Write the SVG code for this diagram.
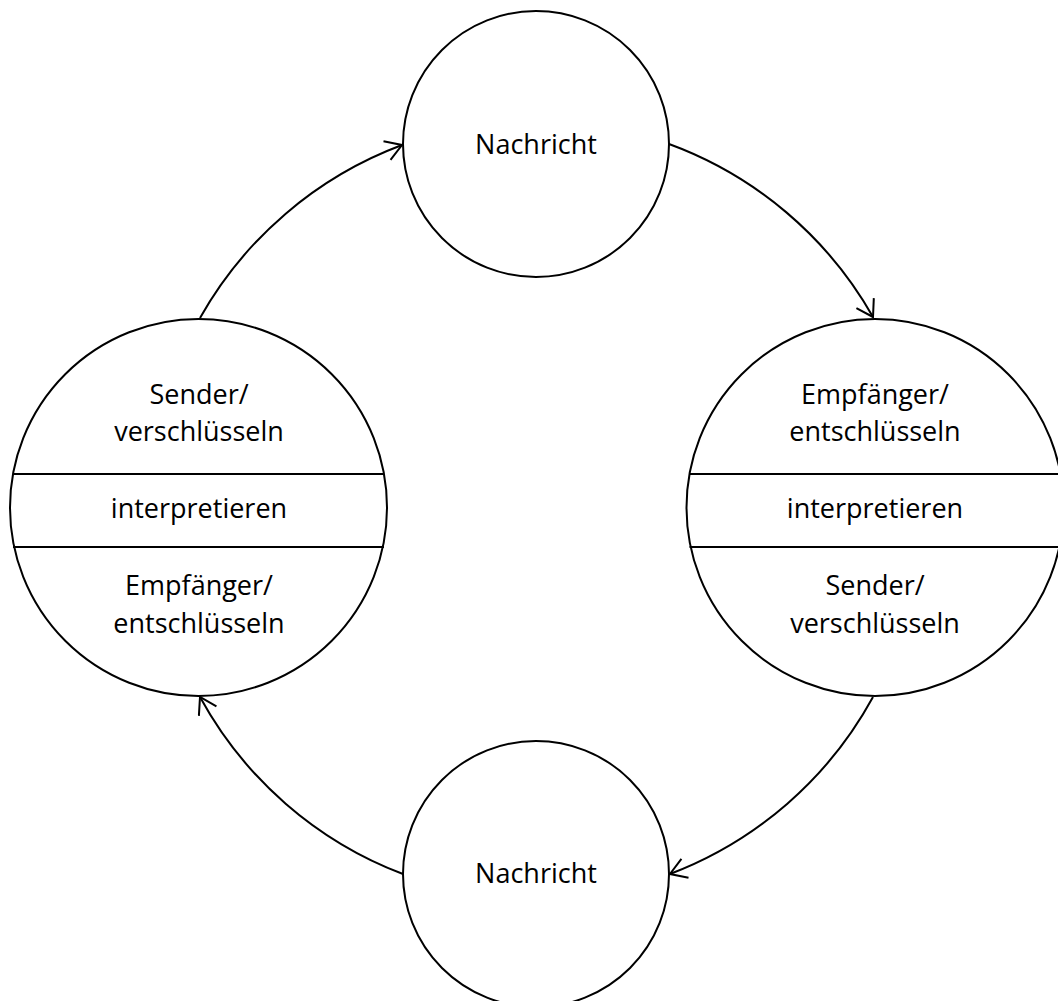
<svg xmlns="http://www.w3.org/2000/svg" width="1058" height="1001" viewBox="0 0 1058 1001">
<style>
.node{fill:#fff;stroke:#000;stroke-width:2}
.div{stroke:#000;stroke-width:2}
.lbl{font-family:"Open Sans","Noto Sans",sans-serif;font-size:27px;fill:#000;text-anchor:middle}
.edge{fill:none;stroke:#000;stroke-width:2}
</style>
<defs>
<marker id="arr" markerUnits="userSpaceOnUse" markerWidth="20" markerHeight="22" viewBox="-1 -1 19 22" refX="16" refY="10" orient="auto">
<path d="M0,0 L16,10 L0,20" fill="none" stroke="#000" stroke-width="2"/>
</marker>
</defs>
<rect width="1058" height="1001" fill="#fff"/>
<g id="connectors">
<path class="edge" d="M200,318 A388,388 0 0 1 402,145" marker-end="url(#arr)"/>
<path class="edge" d="M669,144 A388,388 0 0 1 873,317" marker-end="url(#arr)"/>
<path class="edge" d="M873,697 A388,388 0 0 1 670,874" marker-end="url(#arr)"/>
<path class="edge" d="M403,874 A388,388 0 0 1 200,697" marker-end="url(#arr)"/>
</g>
<g id="node-top">
<circle class="node" cx="536" cy="144" r="133"/>
<text class="lbl" x="536" y="154">Nachricht</text>
</g>
<g id="node-bottom">
<circle class="node" cx="536" cy="874" r="133"/>
<text class="lbl" x="536" y="883">Nachricht</text>
</g>
<g id="node-left">
<circle class="node" cx="198.5" cy="507.5" r="188.5"/>
<line class="div" x1="13" y1="474" x2="384" y2="474"/>
<line class="div" x1="13" y1="547" x2="384" y2="547"/>
<text class="lbl" x="199" y="404">Sender/</text>
<text class="lbl" x="199" y="441">verschlüsseln</text>
<text class="lbl" x="199" y="518">interpretieren</text>
<text class="lbl" x="199" y="595">Empfänger/</text>
<text class="lbl" x="199" y="633">entschlüsseln</text>
</g>
<g id="node-right">
<circle class="node" cx="875" cy="507.5" r="188.5"/>
<line class="div" x1="689.5" y1="474" x2="1060.5" y2="474"/>
<line class="div" x1="689.5" y1="547" x2="1060.5" y2="547"/>
<text class="lbl" x="875" y="404">Empfänger/</text>
<text class="lbl" x="875" y="441">entschlüsseln</text>
<text class="lbl" x="875" y="518">interpretieren</text>
<text class="lbl" x="875" y="595">Sender/</text>
<text class="lbl" x="875" y="633">verschlüsseln</text>
</g>
</svg>
